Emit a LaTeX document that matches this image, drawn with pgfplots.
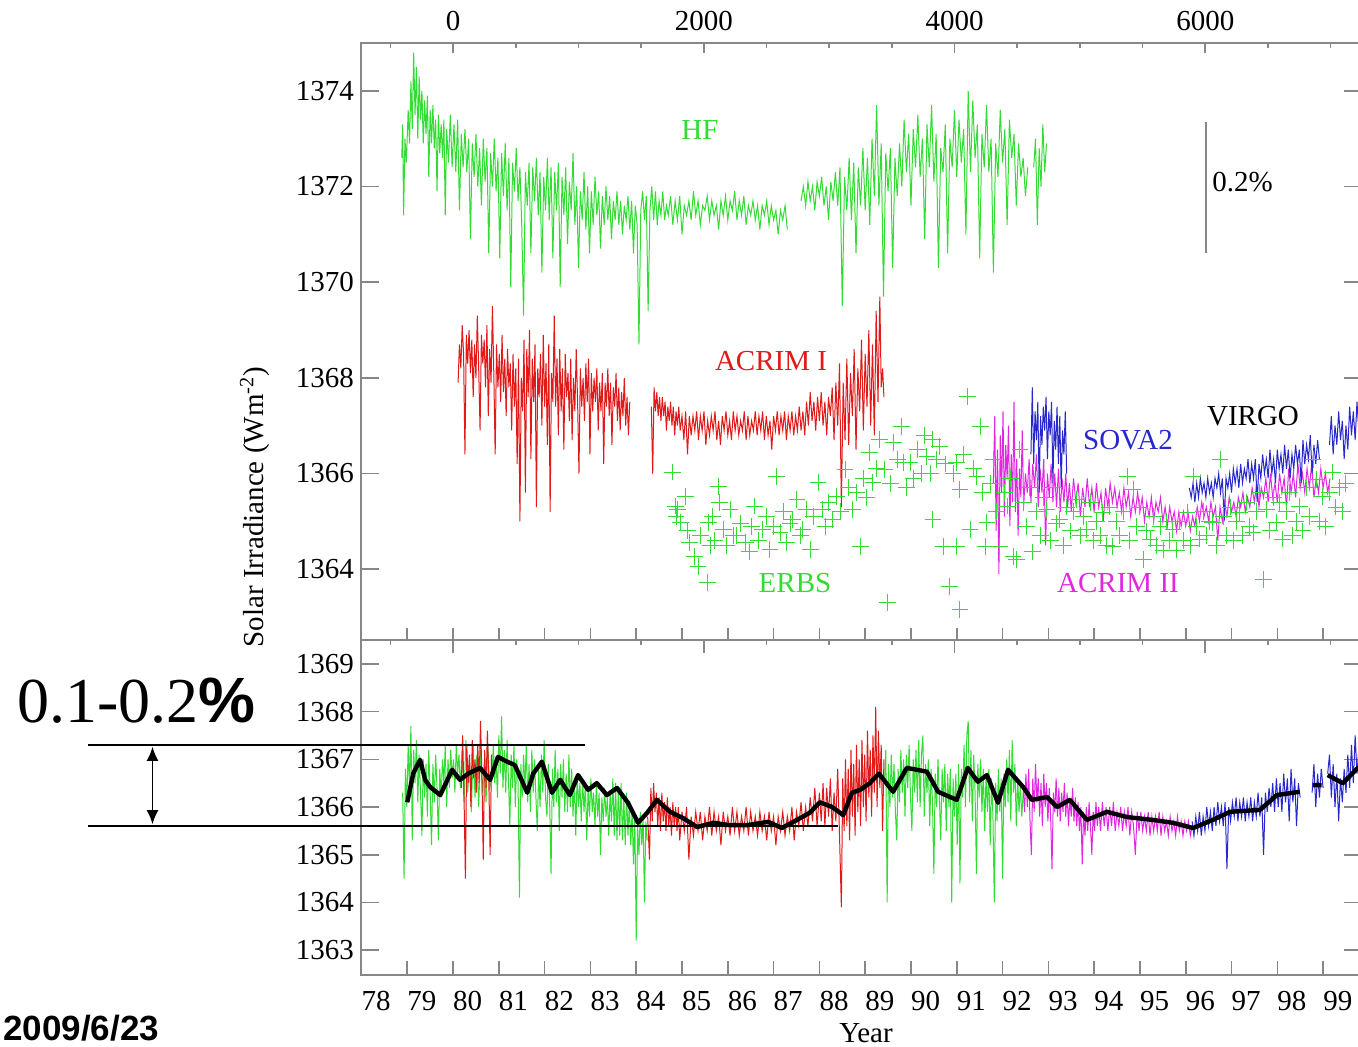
\documentclass[border=0pt]{standalone}
\usepackage{pgfplots}
\pgfplotsset{compat=1.18}
\usepackage{fontspec}
\setmainfont{Liberation Serif}
\newfontfamily\arialb{Liberation Sans}
\usetikzlibrary{arrows.meta}
\definecolor{hfg}{RGB}{50,220,50}
\definecolor{acr}{RGB}{225,25,25}
\definecolor{mag}{RGB}{225,40,225}
\definecolor{blu}{RGB}{40,40,205}
\definecolor{axg}{RGB}{135,135,135}
\newcommand{\tfont}{\fontsize{14.5}{17}\selectfont}
\pgfplotsset{
  base/.style={
    scale only axis, width=500.5pt, xmin=77.99, xmax=99.85,
    axis line style={axg, line width=0.8pt},
    tick style={axg, line width=0.8pt},
    tick align=inside,
    tick label style={font=\tfont, text=black},
    /pgf/number format/assume math mode=true,
    /pgf/number format/1000 sep={},
  },
  top/.style={base, at={(180.5pt,203pt)}, anchor=south west, height=298.5pt},
  bot/.style={base, at={(180.5pt,35.5pt)}, anchor=south west, height=167.5pt},
}
\begin{document}
\begin{tikzpicture}
\useasboundingbox (0,0) rectangle (679pt,523pt);
% ---------------- TOP PANEL ----------------
\begin{axis}[top, ymin=1362.52, ymax=1375, xtick=\empty,
  ytick={1364,1366,...,1374}, minor y tick num=3, ytick pos=both,
  major tick length=9pt, minor tick length=5pt, unbounded coords=jump]
% HF
\addplot[hfg, line width=0.5pt] coordinates {
(78.88,1372.6)(78.90,1373.3)(78.92,1371.4)(78.95,1373.0)(78.98,1372.5)(79.02,1373.6)(79.05,1372.9)(79.08,1374.2)(79.11,1373.2)(79.14,1374.8)
(79.17,1373.5)(79.20,1374.5)(79.23,1373.0)(79.26,1374.3)(79.29,1373.4)(79.32,1374.0)(79.35,1372.9)(79.38,1373.8)(79.41,1373.1)(79.44,1373.9)
(79.47,1372.2)(79.50,1373.6)(79.53,1372.9)(79.56,1373.7)(79.59,1372.8)(79.62,1373.4)(79.65,1371.9)(79.68,1373.5)(79.71,1372.7)(79.74,1373.3)
(79.77,1372.6)(79.80,1373.4)(79.83,1371.4)(79.86,1373.2)(79.90,1372.5)(79.94,1373.5)(79.98,1372.4)(80.02,1373.3)(80.06,1372.3)(80.10,1373.4)
(80.14,1371.5)(80.18,1373.1)(80.22,1372.4)(80.26,1373.2)(80.30,1372.3)(80.34,1373.0)(80.38,1370.9)(80.42,1372.9)(80.46,1372.2)(80.50,1373.1)
(80.54,1372.0)(80.58,1372.8)(80.62,1371.6)(80.66,1373.0)(80.70,1372.1)(80.74,1372.8)(80.78,1370.6)(80.82,1372.7)(80.86,1372.0)(80.90,1373.0)
(80.94,1371.9)(80.98,1372.6)(81.02,1370.5)(81.06,1372.7)(81.10,1371.8)(81.14,1372.9)(81.18,1371.5)(81.22,1372.6)(81.26,1369.9)(81.30,1372.5)
(81.34,1371.9)(81.38,1372.8)(81.42,1371.7)(81.46,1372.4)(81.50,1371.2)(81.54,1369.3)(81.58,1372.3)(81.62,1371.6)(81.66,1372.5)(81.70,1370.6)
(81.74,1372.4)(81.78,1371.7)(81.82,1372.6)(81.86,1371.4)(81.90,1372.3)(81.94,1370.2)(81.98,1372.2)(82.02,1371.5)(82.06,1372.6)(82.10,1371.3)
(82.14,1372.4)(82.18,1370.5)(82.22,1372.3)(82.26,1371.5)(82.30,1372.5)(82.34,1369.9)(82.38,1372.2)(82.42,1371.4)(82.46,1372.4)(82.50,1370.8)
(82.54,1372.1)(82.58,1371.5)(82.62,1372.7)(82.66,1371.2)(82.70,1372.0)(82.74,1370.3)(82.78,1371.9)(82.82,1371.3)(82.86,1372.3)(82.90,1371.1)
(82.94,1372.0)(82.98,1370.6)(83.02,1371.9)(83.06,1371.2)(83.10,1372.2)(83.14,1371.4)(83.18,1371.9)(83.22,1370.7)(83.26,1371.8)(83.30,1371.2)
(83.34,1372.0)(83.38,1371.3)(83.42,1371.8)(83.46,1370.9)(83.50,1371.7)(83.54,1371.3)(83.58,1371.9)(83.62,1371.2)(83.66,1371.7)(83.70,1371.0)
(83.74,1371.6)(83.78,1371.3)(83.82,1371.8)(83.86,1371.1)(83.90,1371.7)(83.94,1370.6)(83.98,1371.6)(84.02,1371.2)(84.06,1368.7)(84.10,1371.5)
(84.14,1371.9)(84.18,1371.3)(84.22,1371.8)(84.26,1369.4)(84.30,1371.5)(84.34,1372.0)(84.38,1371.3)(84.42,1371.9)(84.46,1371.2)(84.50,1371.7)
(84.54,1371.4)(84.58,1371.9)(84.62,1371.3)(84.66,1371.6)(84.70,1371.4)(84.75,1371.8)(84.80,1371.2)(84.85,1371.7)(84.90,1371.3)(84.95,1371.8)
(85.00,1371.0)(85.05,1371.6)(85.10,1371.4)(85.15,1371.7)(85.20,1371.3)(85.25,1371.9)(85.30,1371.4)(85.35,1371.7)(85.40,1371.2)(85.45,1371.6)
(85.50,1371.5)(85.55,1371.8)(85.60,1371.3)(85.65,1371.7)(85.70,1371.4)(85.75,1371.6)(85.80,1371.1)(85.85,1371.7)(85.90,1371.4)(85.95,1371.8)
(86.00,1371.3)(86.05,1371.7)(86.10,1371.5)(86.15,1371.9)(86.20,1371.3)(86.25,1371.7)(86.30,1371.4)(86.35,1371.8)(86.40,1371.2)(86.45,1371.6)
(86.50,1371.4)(86.55,1371.7)(86.60,1371.3)(86.65,1371.6)(86.70,1371.1)(86.75,1371.6)(86.80,1371.4)(86.85,1371.7)(86.90,1371.2)(86.95,1371.6)
(87.00,1371.3)(87.05,1371.5)(87.10,1371.0)(87.15,1371.5)(87.20,1371.3)(87.25,1371.6)(87.30,1371.1)
(87.45,nan)
(87.60,1371.7)(87.65,1372.0)(87.70,1371.6)(87.75,1372.1)(87.80,1371.7)(87.85,1372.0)(87.90,1371.5)(87.95,1372.1)(88.00,1371.8)(88.05,1372.2)
(88.10,1371.6)(88.15,1372.0)(88.20,1371.3)(88.25,1372.1)(88.30,1371.7)(88.35,1372.3)(88.40,1371.6)(88.45,1372.4)(88.50,1369.5)(88.55,1372.2)
(88.60,1371.5)(88.65,1372.6)(88.70,1371.3)(88.75,1372.5)(88.80,1370.6)(88.85,1372.4)(88.90,1371.6)(88.95,1372.8)(89.00,1371.5)(89.05,1372.6)
(89.10,1371.2)(89.15,1373.0)(89.20,1371.8)(89.25,1373.7)(89.30,1371.6)(89.35,1372.9)(89.40,1369.7)(89.45,1372.7)(89.50,1371.9)(89.55,1372.8)
(89.60,1370.3)(89.65,1372.6)(89.70,1371.8)(89.75,1372.9)(89.80,1372.0)(89.85,1373.4)(89.90,1372.3)(89.95,1373.1)(90.00,1371.6)(90.05,1373.2)
(90.10,1372.4)(90.15,1373.5)(90.20,1372.2)(90.25,1373.0)(90.30,1370.9)(90.35,1373.3)(90.40,1372.4)(90.45,1373.7)(90.50,1372.1)(90.55,1373.1)
(90.60,1370.3)(90.65,1372.8)(90.70,1372.3)(90.75,1373.3)(90.80,1370.6)(90.85,1373.0)(90.90,1372.4)(90.95,1373.6)(91.00,1372.2)(91.05,1373.4)
(91.10,1372.5)(91.15,1373.2)(91.20,1371.0)(91.25,1374.0)(91.30,1372.3)(91.35,1373.8)(91.40,1372.6)(91.45,1373.3)(91.50,1370.5)(91.55,1373.1)
(91.60,1372.4)(91.65,1373.7)(91.70,1372.3)(91.75,1373.0)(91.80,1370.2)(91.85,1372.9)(91.90,1372.2)(91.95,1373.6)(92.00,1372.5)(92.05,1373.2)
(92.10,1371.2)(92.15,1373.4)(92.20,1372.6)(92.25,1373.1)(92.30,1371.6)(92.35,1372.9)(92.40,1372.2)(92.45,1372.6)(92.50,1371.8)(92.55,1372.4)
(92.61,nan)
(92.68,1372.4)(92.72,1373.0)(92.76,1371.2)(92.80,1372.8)(92.84,1372.0)(92.88,1373.3)(92.92,1372.3)(92.96,1372.9)
};
% ACRIM I
\addplot[acr, line width=0.5pt] coordinates {
(80.11,1367.9)(80.14,1368.7)(80.17,1368.2)(80.20,1369.1)(80.23,1368.5)(80.26,1366.4)(80.29,1368.9)(80.32,1368.3)(80.35,1369.0)(80.38,1368.1)
(80.41,1368.8)(80.44,1367.6)(80.47,1368.7)(80.50,1368.0)(80.53,1369.3)(80.56,1368.2)(80.59,1366.9)(80.62,1368.9)(80.65,1368.3)(80.68,1368.8)
(80.71,1367.8)(80.74,1369.1)(80.77,1367.2)(80.80,1368.6)(80.83,1367.9)(80.86,1369.5)(80.89,1368.1)(80.92,1366.4)(80.95,1368.7)(80.98,1367.8)
(81.01,1368.5)(81.04,1367.5)(81.07,1368.9)(81.10,1367.7)(81.13,1368.4)(81.16,1367.2)(81.19,1368.6)(81.22,1367.8)(81.25,1368.3)(81.28,1366.9)
(81.31,1368.5)(81.34,1367.4)(81.37,1368.2)(81.40,1366.2)(81.43,1368.4)(81.46,1365.0)(81.49,1368.0)(81.52,1367.3)(81.55,1368.8)(81.58,1365.6)
(81.61,1368.6)(81.64,1367.6)(81.67,1369.0)(81.70,1366.3)(81.73,1368.4)(81.76,1367.5)(81.79,1368.7)(81.82,1365.3)(81.85,1368.2)(81.88,1367.6)
(81.91,1368.5)(81.94,1367.0)(81.97,1368.9)(82.00,1367.4)(82.03,1368.3)(82.06,1366.6)(82.09,1368.7)(82.12,1365.2)(82.15,1368.1)(82.18,1367.5)
(82.21,1369.3)(82.24,1367.4)(82.27,1368.4)(82.30,1366.8)(82.33,1368.6)(82.36,1367.3)(82.39,1368.2)(82.42,1366.5)(82.45,1368.5)(82.48,1367.6)
(82.51,1368.1)(82.54,1367.1)(82.57,1368.4)(82.60,1366.7)(82.63,1368.0)(82.66,1367.3)(82.69,1368.6)(82.72,1367.5)(82.75,1366.0)(82.78,1368.2)
(82.81,1367.4)(82.84,1368.0)(82.87,1367.1)(82.90,1368.3)(82.93,1367.5)(82.96,1368.4)(82.99,1366.4)(83.02,1368.1)(83.05,1367.3)(83.08,1368.0)
(83.11,1367.5)(83.14,1368.2)(83.17,1366.9)(83.20,1367.9)(83.23,1367.3)(83.26,1368.1)(83.29,1366.2)(83.32,1367.9)(83.35,1367.4)(83.38,1368.2)
(83.41,1367.2)(83.44,1367.9)(83.47,1366.6)(83.50,1367.8)(83.53,1367.4)(83.56,1368.1)(83.59,1367.1)(83.62,1367.8)(83.65,1366.9)(83.68,1367.7)
(83.71,1367.2)(83.74,1368.0)(83.77,1367.0)(83.80,1367.6)(83.83,1366.8)(83.86,1367.5)
(84.10,nan)
(84.33,1367.4)(84.36,1366.0)(84.39,1367.8)(84.42,1367.3)(84.45,1367.7)(84.48,1367.2)(84.51,1367.6)(84.54,1367.1)(84.57,1367.6)(84.60,1367.2)
(84.63,1367.5)(84.66,1366.9)(84.69,1367.4)(84.72,1367.1)(84.75,1367.5)(84.78,1367.0)(84.81,1367.4)(84.84,1366.8)(84.87,1367.3)(84.90,1367.0)
(84.93,1367.4)(84.96,1366.9)(85.00,1367.2)(85.04,1366.7)(85.08,1367.3)(85.12,1366.4)(85.16,1367.2)(85.20,1366.8)(85.24,1367.2)(85.28,1366.9)
(85.32,1367.3)(85.36,1366.7)(85.40,1367.2)(85.44,1366.9)(85.48,1367.3)(85.52,1366.6)(85.56,1367.1)(85.60,1366.8)(85.64,1367.2)(85.68,1366.9)
(85.72,1367.3)(85.76,1366.7)(85.80,1367.1)(85.84,1366.6)(85.88,1367.2)(85.92,1366.9)(85.96,1367.3)(86.00,1366.8)(86.04,1367.1)(86.08,1366.7)
(86.12,1367.3)(86.16,1366.9)(86.20,1367.2)(86.24,1366.8)(86.28,1367.1)(86.32,1366.9)(86.36,1367.3)(86.40,1366.7)(86.44,1367.2)(86.48,1366.8)
(86.52,1367.1)(86.56,1366.9)(86.60,1367.3)(86.64,1366.8)(86.68,1367.2)(86.72,1366.9)(86.76,1367.3)(86.80,1366.7)(86.84,1367.2)(86.88,1366.8)
(86.92,1367.1)(86.96,1366.5)(87.00,1367.2)(87.04,1366.9)(87.08,1367.3)(87.12,1366.8)(87.16,1367.2)(87.20,1366.9)(87.24,1367.3)(87.28,1366.7)
(87.32,1367.2)(87.36,1366.9)(87.40,1367.3)(87.44,1366.8)(87.48,1367.2)(87.52,1366.9)(87.56,1367.4)(87.60,1366.9)(87.64,1367.3)(87.68,1366.8)
(87.72,1367.5)(87.76,1367.0)(87.80,1367.7)(87.84,1367.1)(87.88,1367.5)(87.92,1366.9)(87.96,1367.6)(88.00,1367.1)(88.04,1367.7)(88.08,1367.0)
(88.12,1367.5)(88.16,1366.8)(88.20,1367.6)(88.24,1367.2)(88.28,1367.8)(88.32,1366.7)(88.36,1367.9)(88.40,1367.0)(88.44,1368.3)(88.48,1365.3)
(88.52,1367.9)(88.56,1366.7)(88.60,1368.4)(88.64,1366.6)(88.68,1368.1)(88.72,1367.2)(88.76,1368.6)(88.80,1366.5)(88.84,1368.2)(88.88,1367.3)
(88.92,1368.8)(88.96,1366.9)(89.00,1368.5)(89.04,1367.4)(89.08,1369.0)(89.12,1367.0)(89.16,1368.7)(89.20,1366.8)(89.24,1369.4)(89.28,1367.5)
(89.32,1369.7)(89.35,1367.8)(89.38,1368.2)(89.41,1367.6)
};
% ERBS
\addplot[hfg, only marks, mark=+, mark size=4.2pt, line width=0.5pt] coordinates {
(84.80,1366.03)(84.85,1365.32)(84.87,1365.10)(84.90,1365.25)(84.96,1364.98)(85.07,1365.52)(85.12,1364.80)(85.17,1364.56)(85.28,1364.27)(85.35,1364.06)
(85.40,1364.70)(85.55,1363.73)(85.57,1364.98)(85.62,1364.50)(85.66,1365.10)(85.72,1364.60)(85.79,1365.73)(85.82,1365.40)(85.90,1364.83)(85.97,1364.50)
(86.05,1365.25)(86.12,1364.70)(86.20,1364.70)(86.28,1364.95)(86.38,1364.56)(86.48,1364.36)(86.52,1364.90)(86.59,1365.32)(86.67,1364.60)(86.75,1364.83)
(86.84,1365.10)(86.92,1364.42)(87.00,1364.90)(87.07,1365.94)(87.14,1364.77)(87.22,1365.20)(87.29,1364.56)(87.36,1364.95)(87.42,1365.04)(87.51,1365.46)
(87.58,1364.70)(87.64,1364.83)(87.72,1365.25)(87.80,1364.42)(87.88,1365.10)(87.97,1365.82)(88.06,1365.25)(88.14,1364.90)(88.20,1365.40)(88.28,1365.04)
(88.38,1365.52)(88.46,1365.20)(88.56,1366.09)(88.64,1365.70)(88.73,1365.25)(88.81,1365.60)(88.89,1364.48)(88.96,1365.90)(89.03,1365.50)(89.10,1366.44)
(89.17,1365.82)(89.24,1366.10)(89.32,1366.71)(89.43,1366.09)(89.48,1363.31)(89.55,1365.80)(89.61,1366.65)(89.70,1366.30)(89.80,1366.99)(89.83,1366.23)
(89.90,1365.70)(89.98,1366.23)(90.06,1365.90)(90.15,1366.50)(90.22,1366.00)(90.30,1366.80)(90.35,1366.36)(90.42,1366.00)(90.48,1366.71)(90.48,1365.04)
(90.55,1366.30)(90.63,1366.57)(90.70,1364.48)(90.75,1366.20)(90.85,1363.64)(90.92,1366.00)(91.00,1364.48)(91.00,1366.23)(91.07,1363.16)(91.07,1365.67)
(91.15,1366.40)(91.24,1367.61)(91.29,1364.83)(91.36,1366.10)(91.44,1365.94)(91.51,1366.99)(91.57,1365.61)(91.62,1364.48)(91.66,1364.98)(91.74,1365.80)
(91.80,1366.30)(91.87,1365.20)(91.94,1364.48)(92.05,1365.60)(92.10,1365.32)(92.17,1365.90)(92.23,1364.27)(92.31,1364.21)(92.38,1366.50)(92.45,1365.40)
(92.52,1364.90)(92.59,1365.70)(92.66,1364.36)(92.74,1365.20)(92.82,1364.70)(92.90,1365.50)(92.97,1365.25)(93.05,1364.60)(93.12,1365.70)(93.18,1364.95)
(93.25,1365.04)(93.33,1364.50)(93.40,1365.30)(93.48,1364.80)(93.55,1365.20)(93.62,1365.46)(93.70,1364.70)(93.77,1365.10)(93.84,1364.83)(93.91,1365.40)
(93.98,1364.60)(94.06,1365.00)(94.13,1364.70)(94.19,1365.19)(94.27,1364.50)(94.34,1365.30)(94.41,1364.48)(94.49,1365.00)(94.56,1364.70)(94.64,1365.20)
(94.72,1365.94)(94.78,1364.60)(94.85,1365.67)(94.92,1364.90)(95.00,1365.30)(95.07,1364.21)(95.14,1364.80)(95.22,1364.63)(95.30,1365.10)(95.37,1364.50)
(95.44,1364.90)(95.51,1364.40)(95.58,1365.00)(95.65,1364.60)(95.72,1364.83)(95.80,1364.40)(95.87,1365.00)(95.95,1364.60)(96.03,1365.19)(96.10,1364.50)
(96.16,1365.94)(96.24,1364.90)(96.31,1364.63)(96.38,1365.20)(96.45,1364.70)(96.52,1365.00)(96.59,1364.98)(96.67,1364.50)(96.75,1366.30)(96.82,1365.10)
(96.90,1364.70)(96.97,1365.30)(97.04,1364.60)(97.11,1365.00)(97.18,1365.19)(97.25,1364.70)(97.33,1365.40)(97.40,1364.90)(97.47,1364.77)(97.54,1365.20)
(97.62,1365.60)(97.69,1363.79)(97.77,1365.25)(97.84,1364.80)(97.92,1365.50)(97.99,1364.98)(98.05,1365.40)(98.12,1364.63)(98.20,1365.20)(98.27,1365.60)
(98.34,1364.70)(98.41,1365.00)(98.49,1365.32)(98.56,1364.80)(98.63,1365.70)(98.71,1365.10)(98.78,1366.30)(98.86,1365.88)(98.92,1365.00)(98.99,1365.52)
(99.06,1364.90)(99.14,1365.60)(99.21,1366.03)(99.28,1365.30)(99.35,1365.70)(99.42,1365.20)(99.50,1365.80)
};
% ACRIM II
\addplot[mag, line width=0.5pt] coordinates {
(91.80,1365.8)(91.83,1367.2)(91.86,1364.8)(91.89,1366.5)(91.92,1363.9)(91.95,1366.8)(91.98,1365.6)(92.01,1367.3)(92.04,1365.1)(92.07,1366.6)
(92.10,1365.9)(92.13,1367.0)(92.16,1364.9)(92.19,1366.4)(92.22,1365.4)(92.25,1367.5)(92.28,1365.2)(92.31,1366.3)(92.34,1364.7)(92.37,1366.1)
(92.40,1365.5)(92.43,1366.9)(92.46,1365.3)(92.50,1366.0)(92.54,1365.6)(92.58,1366.3)(92.62,1365.4)(92.66,1366.2)(92.70,1365.7)(92.74,1366.4)
(92.78,1365.3)(92.82,1366.1)(92.86,1365.6)(92.90,1366.3)(92.94,1364.5)(92.98,1366.0)(93.02,1365.5)(93.06,1366.2)(93.10,1365.4)(93.14,1366.0)
(93.18,1365.3)(93.22,1366.1)(93.26,1365.2)(93.30,1365.9)(93.34,1365.4)(93.38,1366.0)(93.42,1365.3)(93.46,1365.8)(93.50,1365.2)(93.55,1365.9)
(93.60,1365.4)(93.65,1365.8)(93.70,1365.1)(93.75,1365.7)(93.80,1365.3)(93.85,1365.9)(93.90,1365.3)(93.95,1365.7)(94.00,1365.2)(94.05,1365.8)
(94.10,1365.3)(94.15,1365.6)(94.20,1365.0)(94.25,1365.7)(94.30,1365.3)(94.35,1365.8)(94.40,1365.4)(94.45,1365.7)(94.50,1365.3)(94.55,1365.6)
(94.60,1365.2)(94.65,1365.7)(94.70,1365.3)(94.75,1365.6)(94.80,1365.1)(94.85,1365.5)(94.90,1365.2)(94.95,1365.6)(95.00,1365.2)(95.05,1365.5)
(95.10,1365.0)(95.15,1365.4)(95.20,1365.1)(95.25,1365.5)(95.30,1365.0)(95.35,1365.4)(95.40,1365.2)(95.45,1365.5)(95.50,1365.0)(95.55,1365.3)
(95.60,1364.9)(95.65,1365.3)(95.70,1365.0)(95.75,1365.2)(95.80,1364.8)(95.85,1365.2)(95.90,1364.9)(95.95,1365.2)(96.00,1364.9)(96.05,1365.2)
(96.10,1364.8)(96.15,1365.1)(96.20,1364.9)(96.25,1365.3)(96.30,1365.0)(96.35,1365.4)(96.40,1365.1)(96.45,1365.3)(96.50,1365.0)(96.55,1365.4)
(96.60,1365.1)(96.65,1365.3)(96.70,1364.6)(96.75,1365.3)(96.80,1365.0)(96.85,1365.4)(96.90,1365.1)(96.95,1365.5)(97.00,1365.2)(97.05,1365.4)
(97.10,1365.1)(97.15,1365.5)(97.20,1365.3)(97.25,1365.6)(97.30,1365.2)(97.35,1365.5)(97.40,1365.3)(97.45,1365.7)(97.50,1365.4)(97.55,1365.8)
(97.60,1365.3)(97.65,1365.7)(97.70,1365.5)(97.75,1365.9)(97.80,1365.4)(97.85,1366.0)(97.90,1365.5)(97.95,1365.8)(98.00,1365.4)(98.05,1366.0)
(98.10,1365.6)(98.15,1365.9)(98.20,1365.3)(98.25,1366.1)(98.30,1365.6)(98.35,1366.0)(98.40,1365.5)(98.45,1366.2)(98.50,1365.7)(98.55,1366.0)
(98.60,1365.6)(98.65,1366.1)(98.70,1365.7)(98.75,1366.2)(98.80,1365.5)(98.85,1365.9)(98.90,1365.6)(98.95,1366.1)(99.00,1365.7)(99.05,1366.0)
(99.10,1365.6)(99.15,1365.9)
};
% SOVA2 and VIRGO
\addplot[blu, line width=0.5pt] coordinates {
(92.62,1366.4)(92.65,1367.8)(92.68,1366.2)(92.71,1367.3)(92.74,1366.7)(92.77,1367.5)(92.80,1365.6)(92.83,1367.2)(92.86,1366.6)(92.89,1367.4)
(92.92,1366.9)(92.95,1367.6)(92.98,1366.3)(93.01,1367.3)(93.04,1366.8)(93.07,1367.5)(93.10,1365.8)(93.13,1367.1)(93.16,1366.5)(93.19,1367.4)
(93.22,1366.2)(93.25,1367.2)(93.28,1365.7)(93.31,1366.9)(93.34,1366.4)(93.37,1367.3)(93.40,1366.0)
};
\addplot[blu, line width=0.5pt] coordinates {
(96.08,1365.7)(96.12,1365.5)(96.16,1365.8)(96.20,1365.4)(96.24,1365.8)(96.28,1365.5)(96.32,1365.9)(96.36,1365.6)(96.40,1365.8)(96.44,1365.5)
(96.48,1365.9)(96.52,1365.6)(96.56,1365.8)(96.60,1365.5)(96.64,1365.9)(96.68,1365.7)(96.72,1366.0)(96.76,1365.6)(96.80,1365.9)(96.84,1365.0)
(96.88,1365.9)(96.92,1365.7)(96.96,1366.0)(97.00,1365.6)(97.04,1366.1)(97.08,1365.8)(97.12,1366.1)(97.16,1365.7)(97.20,1366.2)(97.24,1365.8)
(97.28,1366.1)(97.32,1365.9)(97.36,1366.3)(97.40,1365.8)(97.44,1366.2)(97.48,1365.9)(97.52,1366.3)(97.56,1365.4)(97.60,1366.2)(97.64,1365.9)
(97.68,1366.4)(97.72,1366.0)(97.76,1366.3)(97.80,1365.9)(97.84,1366.5)(97.88,1366.0)(97.92,1366.3)(97.96,1365.8)(98.00,1366.5)(98.04,1366.1)
(98.08,1366.4)(98.12,1366.0)(98.16,1366.6)(98.20,1366.1)(98.24,1366.5)(98.28,1365.9)(98.32,1366.4)(98.36,1366.1)(98.40,1366.6)(98.44,1366.2)
(98.48,1366.5)(98.52,1365.8)(98.56,1366.7)(98.60,1366.2)(98.64,1366.6)(98.68,1366.3)(98.72,1366.8)(98.76,1366.0)(98.80,1366.6)(98.84,1366.2)
(98.88,1366.7)(98.92,1366.3)
(99.03,nan)
(99.14,1366.6)(99.18,1367.2)(99.22,1366.4)(99.26,1367.0)(99.30,1366.6)(99.34,1367.3)(99.38,1366.7)(99.42,1367.1)(99.46,1366.3)(99.50,1367.0)
(99.54,1366.5)(99.58,1367.4)(99.62,1366.8)(99.66,1367.3)(99.70,1366.7)(99.74,1367.5)(99.78,1366.9)(99.82,1367.2)
};
\end{axis}
% top axis (days)
\begin{axis}[top, ymin=0, ymax=1, axis x line*=top, axis y line=none,
  xtick={80,85.476,90.951,96.427}, xticklabels={0,2000,4000,6000},
  xticklabel style={yshift=2.5pt},
  minor xtick={78.631,81.369,82.738,84.107,86.845,88.214,89.582,92.320,93.689,95.058,97.796,99.165},
  major tick length=5pt, minor tick length=2.5pt]
\end{axis}
% bottom of top panel (years)
\begin{axis}[top, ymin=0, ymax=1, axis x line*=bottom, axis y line=none,
  xtick={79,80,...,99}, xticklabels={}, major tick length=6pt]
\end{axis}
% ---------------- BOTTOM PANEL ----------------
\begin{axis}[bot, ymin=1362.48, ymax=1369.5, xtick=\empty,
  ytick={1363,1364,...,1369}, ytick pos=both,
  major tick length=9pt, unbounded coords=jump]
\addplot[hfg, line width=0.5pt] coordinates {
(78.90,1366.3)(78.93,1364.5)(78.96,1366.8)(78.99,1366.0)(79.02,1367.3)(79.05,1366.4)(79.08,1367.7)(79.11,1365.3)(79.14,1367.2)(79.17,1366.5)
(79.20,1367.4)(79.23,1366.1)(79.26,1367.1)(79.29,1366.3)(79.32,1365.4)(79.35,1367.0)(79.38,1366.2)(79.41,1366.9)(79.44,1365.8)(79.47,1367.2)
(79.50,1366.3)(79.53,1365.2)(79.56,1366.9)(79.59,1366.1)(79.62,1367.1)(79.65,1366.4)(79.68,1365.3)(79.71,1366.8)(79.74,1366.2)(79.77,1367.0)
(79.80,1366.5)(79.83,1367.3)(79.86,1366.0)(79.89,1367.0)(79.92,1366.4)(79.95,1367.2)(79.98,1366.6)(80.01,1367.0)(80.04,1366.3)(80.07,1367.3)
(80.10,1366.7)(80.13,1367.1)(80.16,1366.4)(80.20,1367.2)(80.24,1366.1)(80.28,1367.4)(80.32,1366.3)(80.36,1367.0)(80.40,1365.9)(80.44,1367.3)
(80.48,1366.2)(80.52,1367.1)(80.56,1366.0)(80.60,1367.2)(80.64,1366.3)(80.68,1366.9)(80.72,1366.1)(80.76,1367.3)(80.80,1366.4)
(80.85,1366.6)(80.88,1367.3)(80.91,1366.5)(80.94,1367.0)(80.97,1366.2)(81.00,1367.5)(81.03,1366.7)(81.06,1367.9)(81.09,1366.4)(81.12,1367.2)
(81.15,1366.3)(81.18,1367.4)(81.21,1366.6)(81.24,1365.6)(81.27,1367.1)(81.30,1366.4)(81.33,1367.3)(81.36,1366.0)(81.39,1367.0)(81.42,1366.5)
(81.45,1364.1)(81.48,1366.9)(81.51,1366.2)(81.54,1367.1)(81.57,1366.4)(81.60,1367.3)(81.63,1366.1)(81.66,1366.9)(81.69,1365.9)(81.72,1367.2)
(81.75,1366.3)(81.78,1367.0)(81.81,1366.2)(81.84,1365.5)(81.87,1366.8)(81.90,1366.0)(81.93,1367.1)(81.96,1366.3)(81.99,1367.4)(82.02,1366.2)
(82.05,1365.8)(82.08,1366.9)(82.11,1366.1)(82.14,1364.6)(82.17,1366.8)(82.20,1366.0)(82.23,1367.2)(82.26,1366.1)(82.29,1366.8)(82.32,1365.5)
(82.35,1366.9)(82.38,1366.2)(82.41,1367.0)(82.44,1365.9)(82.47,1366.7)(82.50,1365.9)(82.53,1367.1)(82.56,1366.0)(82.59,1366.8)(82.62,1365.8)
(82.65,1366.6)(82.68,1365.4)(82.71,1366.7)(82.74,1366.0)(82.77,1366.5)(82.80,1365.7)(82.83,1366.6)(82.86,1365.9)(82.89,1366.5)(82.92,1365.3)
(82.95,1366.4)(82.98,1365.8)(83.01,1366.6)(83.04,1365.9)(83.07,1366.3)(83.10,1365.6)(83.13,1366.5)(83.16,1365.8)(83.19,1366.3)(83.22,1365.0)
(83.25,1366.2)(83.28,1365.7)(83.31,1366.4)(83.34,1365.8)(83.37,1366.2)(83.40,1365.4)(83.43,1366.3)(83.46,1365.7)(83.49,1366.6)(83.52,1365.4)
(83.55,1366.5)(83.58,1365.3)(83.61,1366.4)(83.64,1365.4)(83.67,1366.5)(83.70,1365.3)(83.73,1366.2)(83.76,1365.2)(83.79,1366.3)(83.82,1365.4)
(83.85,1366.1)(83.88,1365.2)(83.91,1365.9)(83.94,1364.8)(83.97,1365.8)(84.00,1363.2)(84.03,1365.6)(84.06,1365.0)(84.09,1365.9)(84.12,1365.2)
(84.15,1365.8)(84.18,1364.0)(84.21,1365.7)(84.24,1365.3)
(86.00,nan)
(89.42,1366.5)(89.45,1367.2)(89.48,1364.0)(89.51,1366.9)(89.54,1366.0)(89.57,1367.1)(89.60,1366.2)(89.63,1366.9)(89.66,1365.9)(89.69,1365.3)
(89.72,1366.8)(89.75,1366.1)(89.78,1367.2)(89.81,1366.3)(89.84,1367.0)(89.87,1365.8)(89.90,1367.1)(89.93,1366.4)(89.96,1367.3)(89.99,1366.2)
(90.02,1365.5)(90.05,1367.0)(90.08,1366.3)(90.11,1367.2)(90.14,1366.1)(90.17,1367.4)(90.20,1366.0)(90.23,1367.1)(90.26,1367.5)(90.29,1365.8)
(90.32,1366.9)(90.35,1366.3)(90.38,1367.0)(90.41,1365.6)(90.44,1366.8)(90.47,1366.1)(90.50,1364.6)(90.53,1366.7)(90.56,1366.0)(90.59,1367.0)
(90.62,1366.2)(90.65,1365.3)(90.68,1366.8)(90.71,1366.1)(90.74,1366.9)(90.77,1365.5)(90.80,1366.7)(90.83,1366.0)(90.86,1366.8)(90.89,1364.0)
(90.92,1366.6)(90.95,1365.8)(90.98,1366.7)(91.01,1365.2)(91.04,1366.9)(91.07,1364.4)(91.10,1366.8)(91.13,1366.2)(91.16,1367.3)(91.19,1366.0)
(91.22,1367.5)(91.25,1367.8)(91.28,1366.1)(91.31,1367.2)(91.34,1365.7)(91.37,1367.1)(91.40,1366.3)(91.43,1364.6)(91.46,1366.9)(91.49,1366.2)
(91.52,1367.0)(91.55,1365.9)(91.58,1366.8)(91.61,1365.5)(91.64,1366.7)(91.67,1365.9)(91.70,1366.8)(91.73,1365.2)(91.76,1366.6)(91.79,1365.8)
(91.82,1364.0)(91.85,1366.5)(91.88,1365.7)(91.91,1366.8)(91.94,1365.9)(91.97,1366.6)(92.00,1364.5)(92.03,1366.7)(92.06,1366.0)(92.09,1367.0)
(92.12,1366.1)(92.15,1367.2)(92.18,1365.7)(92.21,1367.4)(92.24,1366.3)(92.27,1366.9)(92.30,1365.6)(92.33,1366.6)(92.36,1365.9)(92.39,1366.5)
(92.42,1365.8)(92.45,1366.3)
};
\addplot[acr, line width=0.5pt] coordinates {
(80.18,1366.4)(80.21,1367.5)(80.24,1366.2)(80.27,1364.5)(80.30,1367.3)(80.33,1366.5)(80.36,1367.1)(80.39,1366.0)(80.42,1367.4)(80.45,1366.6)
(80.48,1367.0)(80.51,1366.3)(80.54,1367.3)(80.57,1366.5)(80.60,1367.8)(80.63,1366.7)(80.66,1364.9)(80.69,1367.2)(80.72,1366.4)(80.75,1367.6)
(80.78,1366.6)(80.81,1365.0)(80.84,1367.1)
(82.00,nan)
(84.25,1365.8)(84.29,1364.9)(84.32,1366.4)(84.35,1365.7)(84.38,1366.5)(84.41,1365.9)(84.44,1366.3)(84.47,1365.6)(84.50,1366.2)(84.53,1365.5)
(84.56,1366.3)(84.59,1365.7)(84.62,1366.1)(84.65,1365.5)(84.68,1366.2)(84.71,1365.6)(84.74,1366.0)(84.77,1365.4)(84.80,1366.1)(84.83,1365.6)
(84.86,1366.0)(84.89,1365.5)(84.92,1366.0)(84.95,1365.3)(85.00,1365.9)(85.05,1365.5)(85.10,1366.0)(85.15,1364.9)(85.20,1365.8)(85.25,1365.4)
(85.30,1365.9)(85.35,1365.5)(85.40,1365.9)(85.45,1365.3)(85.50,1365.8)(85.55,1365.5)(85.60,1366.0)(85.65,1365.4)(85.70,1365.9)(85.75,1365.5)
(85.80,1365.8)(85.85,1365.2)(85.90,1365.9)(85.95,1365.5)(86.00,1365.8)(86.05,1365.4)(86.10,1366.0)(86.15,1365.5)(86.20,1365.9)(86.25,1365.4)
(86.30,1365.8)(86.35,1365.5)(86.40,1366.0)(86.45,1365.4)(86.50,1365.9)(86.55,1365.5)(86.60,1365.8)(86.65,1365.4)(86.70,1365.9)(86.75,1365.5)
(86.80,1365.8)(86.85,1365.3)(86.90,1365.9)(86.95,1365.5)(87.00,1365.8)(87.05,1365.2)(87.10,1365.8)(87.15,1365.5)(87.20,1365.9)(87.25,1365.4)
(87.30,1365.8)(87.35,1365.5)(87.40,1366.0)(87.45,1365.3)(87.50,1365.9)(87.55,1365.6)(87.60,1366.1)(87.65,1365.5)(87.70,1366.0)(87.75,1365.6)
(87.80,1366.2)(87.85,1365.7)(87.90,1366.4)(87.95,1365.6)(88.00,1366.3)(88.04,1365.7)(88.08,1366.5)(88.12,1365.6)(88.16,1366.4)(88.20,1365.8)
(88.24,1366.6)(88.28,1365.5)(88.32,1366.3)(88.36,1365.7)(88.40,1366.8)(88.44,1365.4)(88.48,1363.9)(88.51,1366.6)(88.54,1365.5)(88.57,1367.0)
(88.60,1365.6)(88.63,1366.8)(88.66,1365.3)(88.69,1367.2)(88.72,1365.8)(88.75,1366.9)(88.78,1365.4)(88.81,1367.3)(88.84,1365.9)(88.87,1367.0)
(88.90,1365.6)(88.93,1367.4)(88.96,1366.0)(88.99,1367.1)(89.02,1365.7)(89.05,1367.6)(89.08,1366.2)(89.11,1367.2)(89.14,1365.8)(89.17,1367.5)
(89.20,1366.3)(89.23,1368.1)(89.26,1366.0)(89.29,1367.6)(89.32,1366.4)(89.35,1367.3)(89.38,1365.5)(89.41,1367.0)
};
\addplot[mag, line width=0.5pt] coordinates {
(92.45,1366.4)(92.48,1365.9)(92.51,1366.7)(92.54,1366.0)(92.57,1366.8)(92.60,1365.7)(92.63,1365.0)(92.66,1366.6)(92.69,1365.9)(92.72,1366.9)
(92.75,1366.1)(92.78,1366.6)(92.81,1365.8)(92.84,1366.5)(92.87,1365.6)(92.90,1366.7)(92.93,1366.0)(92.96,1366.5)(92.99,1365.7)(93.02,1366.4)
(93.05,1365.8)(93.08,1364.7)(93.11,1366.3)(93.14,1365.9)(93.17,1366.6)(93.20,1365.8)(93.23,1366.4)(93.26,1365.7)(93.29,1366.3)(93.32,1365.9)
(93.35,1366.5)(93.38,1365.8)(93.41,1366.3)(93.44,1365.6)(93.47,1366.2)(93.50,1365.8)(93.53,1366.4)(93.56,1365.7)(93.59,1366.2)(93.62,1365.6)
(93.65,1366.1)(93.68,1365.5)(93.71,1366.0)(93.74,1364.8)(93.77,1365.9)(93.80,1365.4)(93.83,1366.0)(93.86,1365.5)(93.89,1366.1)(93.92,1365.6)
(93.95,1365.0)(93.98,1365.9)(94.01,1365.5)(94.04,1366.1)(94.07,1365.6)(94.10,1366.0)(94.14,1365.5)(94.18,1366.1)(94.22,1365.6)(94.26,1366.0)
(94.30,1365.5)(94.34,1366.0)(94.38,1365.6)(94.42,1366.1)(94.46,1365.5)(94.50,1365.9)(94.54,1365.6)(94.58,1366.0)(94.62,1365.5)(94.66,1365.9)
(94.70,1365.6)(94.74,1366.0)(94.78,1365.4)(94.82,1365.9)(94.86,1365.6)(94.90,1365.0)(94.94,1365.9)(94.98,1365.5)(95.02,1365.9)(95.06,1365.5)
(95.10,1365.8)(95.14,1365.5)(95.18,1365.9)(95.22,1365.4)(95.26,1365.8)(95.30,1365.5)(95.34,1365.8)(95.38,1365.5)(95.42,1365.9)(95.46,1365.4)
(95.50,1365.8)(95.54,1365.5)(95.58,1365.7)(95.62,1365.4)(95.66,1365.8)(95.70,1365.5)(95.74,1365.7)(95.78,1365.4)(95.82,1365.8)(95.86,1365.5)
(95.90,1365.7)(95.94,1365.4)(95.98,1365.7)(96.02,1365.5)(96.06,1365.7)(96.10,1365.4)(96.14,1365.6)
};
\addplot[blu, line width=0.5pt] coordinates {
(96.14,1365.7)(96.18,1365.4)(96.22,1365.8)(96.26,1365.5)(96.30,1365.9)(96.34,1365.4)(96.38,1365.8)(96.42,1365.5)(96.46,1366.0)(96.50,1365.6)
(96.54,1365.9)(96.58,1365.5)(96.62,1366.0)(96.66,1365.6)(96.70,1366.1)(96.74,1365.7)(96.78,1366.0)(96.82,1365.6)(96.86,1366.1)(96.90,1364.7)
(96.94,1366.0)(96.98,1365.7)(97.02,1366.1)(97.06,1365.8)(97.10,1366.2)(97.14,1365.7)(97.18,1366.1)(97.22,1365.8)(97.26,1366.2)(97.30,1365.7)
(97.34,1366.1)(97.38,1365.8)(97.42,1366.2)(97.46,1365.7)(97.50,1366.1)(97.54,1365.8)(97.58,1366.3)(97.62,1365.8)(97.66,1366.2)(97.70,1365.0)
(97.74,1366.3)(97.78,1365.9)(97.82,1366.4)(97.86,1366.0)(97.90,1366.5)(97.94,1365.9)(97.98,1366.6)(98.02,1366.0)(98.06,1366.5)(98.10,1365.9)
(98.14,1366.7)(98.18,1366.1)(98.22,1366.6)(98.26,1365.7)(98.30,1366.8)(98.34,1366.1)(98.38,1366.6)(98.42,1365.6)(98.46,1366.5)(98.50,1366.2)
(98.63,nan)
(98.76,1366.3)(98.80,1366.9)(98.84,1366.0)(98.88,1366.7)(98.92,1366.2)(98.96,1366.8)(99.00,1366.4)
(99.05,nan)
(99.10,1366.7)(99.14,1367.1)(99.18,1366.2)(99.22,1366.9)(99.26,1366.0)(99.30,1366.7)(99.34,1365.7)(99.38,1366.6)(99.42,1366.1)(99.46,1366.8)
(99.50,1366.3)(99.54,1367.1)(99.58,1366.4)(99.62,1367.3)(99.66,1366.5)(99.70,1367.5)(99.74,1366.7)(99.78,1367.2)(99.82,1366.6)(99.86,1367.0)
};
% smoothed composite
\addplot[black, line width=2.2pt, line join=round] coordinates {
(79.00,1366.10)(79.13,1366.70)(79.28,1366.99)(79.39,1366.57)(79.50,1366.42)(79.72,1366.25)(79.98,1366.78)(80.15,1366.57)(80.33,1366.70)(80.59,1366.82)
(80.81,1366.57)(80.98,1367.05)(81.18,1366.95)(81.35,1366.88)(81.62,1366.30)(81.75,1366.70)(81.94,1366.95)(82.16,1366.30)(82.34,1366.57)(82.55,1366.25)
(82.73,1366.67)(82.95,1366.36)(83.14,1366.50)(83.36,1366.25)(83.58,1366.40)(83.82,1366.09)(84.04,1365.67)(84.24,1365.88)(84.45,1366.15)(84.74,1365.90)
(85.02,1365.77)(85.33,1365.58)(85.68,1365.67)(86.05,1365.62)(86.42,1365.62)(86.88,1365.69)(87.18,1365.56)(87.51,1365.73)(87.79,1365.88)(88.01,1366.10)
(88.28,1366.00)(88.52,1365.83)(88.71,1366.30)(88.89,1366.36)(89.10,1366.50)(89.30,1366.70)(89.61,1366.32)(89.91,1366.82)(90.35,1366.74)(90.59,1366.32)
(91.00,1366.15)(91.24,1366.82)(91.46,1366.53)(91.66,1366.67)(91.90,1366.09)(92.12,1366.78)(92.45,1366.42)(92.64,1366.15)(92.97,1366.21)(93.19,1366.00)
(93.47,1366.15)(93.84,1365.73)(94.28,1365.90)(94.72,1365.79)(95.28,1365.73)(95.72,1365.67)(96.16,1365.56)(96.59,1365.73)(96.97,1365.90)(97.62,1365.94)
(97.99,1366.25)(98.49,1366.32)
(98.63,nan)
(98.78,1366.46)(98.97,1366.46)
(99.04,nan)
(99.10,1366.67)(99.43,1366.50)(99.76,1366.82)(99.86,1366.85)
};
\end{axis}
% top of bottom panel (days)
\begin{axis}[bot, ymin=0, ymax=1, axis x line*=top, axis y line=none,
  xtick={80,85.476,90.951,96.427}, xticklabels={},
  minor xtick={78.631,81.369,82.738,84.107,86.845,88.214,89.582,92.320,93.689,95.058,97.796,99.165},
  major tick length=6.5pt, minor tick length=2.5pt]
\end{axis}
% bottom of bottom panel (years)
\begin{axis}[bot, ymin=0, ymax=1, axis x line*=bottom, axis y line=none,
  xtick={79,80,...,99}, xticklabels={}, major tick length=7pt,
  extra x ticks={78.32,79.32,80.32,81.32,82.32,83.32,84.32,85.32,86.32,87.32,88.32,89.32,90.32,91.32,92.32,93.32,94.32,95.32,96.32,97.32,98.32,99.32},
  extra x tick labels={78,79,80,81,82,83,84,85,86,87,88,89,90,91,92,93,94,95,96,97,98,99},
  extra x tick style={major tick length=0pt, xticklabel style={yshift=-4.5pt}}]
\end{axis}
% ---------------- annotations ----------------
\node[font=\tfont, text=hfg] at (350pt,458pt) {HF};
\node[font=\tfont, text=acr] at (385.5pt,342.5pt) {ACRIM I};
\node[font=\tfont, text=hfg] at (397.5pt,231.5pt) {ERBS};
\node[font=\tfont, text=blu] at (564pt,303pt) {SOVA2};
\node[font=\tfont, text=black] at (626.5pt,315pt) {VIRGO};
\node[font=\tfont, text=mag] at (559pt,231.5pt) {ACRIM II};
\draw[axg, line width=1pt] (603pt,462pt) -- (603pt,396.5pt);
\node[anchor=west, font=\tfont, inner sep=0pt] at (606pt,432pt) {0.2\%};
\node[rotate=90, font=\tfont] at (127.5pt,269.5pt) {Solar Irradiance (Wm\textsuperscript{-2})};
\node[font=\tfont, inner sep=0pt] at (433pt,6.5pt) {Year};
\node[anchor=base west, inner sep=0pt, font=\fontsize{32}{36}\selectfont] at (8.5pt,162pt) {0.1-0.2{\arialb\bfseries\%}};
\draw[line width=1pt] (44pt,150.5pt) -- (292.5pt,150.5pt);
\draw[line width=1pt] (44pt,110pt) -- (419pt,110pt);
\draw[line width=0.9pt, {Latex[length=7pt,width=6pt]}-{Latex[length=7pt,width=6pt]}] (76.25pt,149.6pt) -- (76.25pt,110.9pt);
\node[anchor=base west, inner sep=0pt, font=\fontsize{17.5}{20}\selectfont\arialb\bfseries] at (1.5pt,3pt) {2009/6/23};
\end{tikzpicture}
\end{document}
